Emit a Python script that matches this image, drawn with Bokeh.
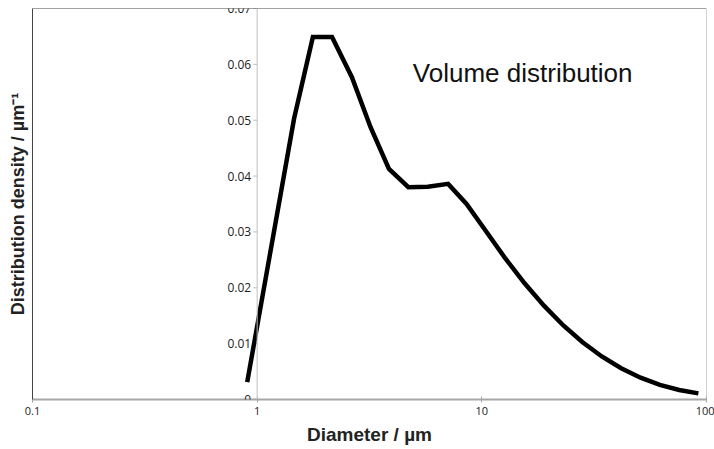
from bokeh.plotting import figure
from bokeh.models import ColumnDataSource, Span, Label, LabelSet, FixedTicker, CustomJSTickFormatter
from bokeh.core.properties import value
from bokeh.embed import file_html
from bokeh.resources import INLINE
import math

# Particle size distribution (volume-weighted density)
diameter_um = [0.903, 1.46, 1.77, 2.154, 2.64, 3.2, 3.86, 4.71, 5.75, 7.08, 8.55,
               10.4, 12.7, 15.5, 18.9, 23.0, 28.0, 34.2, 41.7, 50.9, 62.0, 75.6, 92.0]
density = [0.0031, 0.0503, 0.0649, 0.0649, 0.0577, 0.0487, 0.0413, 0.0380, 0.0381,
           0.0386, 0.0350, 0.0302, 0.0253, 0.0208, 0.0168, 0.0133, 0.0103, 0.0077,
           0.0056, 0.0039, 0.0026, 0.0017, 0.0011]

x_ticks = [0.1, 1, 10, 100]
y_ticks = [0, 0.01, 0.02, 0.03, 0.04, 0.05, 0.06, 0.07]
y_tick_labels = ["0", "0.01", "0.02", "0.03", "0.04", "0.05", "0.06", "0.07"]
y_axis_at = 1

p = figure(width=714, height=449, x_axis_type="log", x_range=(0.1, 100), y_range=(0, 0.07),
           output_backend="svg", toolbar_location=None,
           min_border_left=32, min_border_right=8, min_border_top=8, min_border_bottom=50)
p.grid.visible = False
p.outline_line_color = None
p.background_fill_color = "white"
p.border_fill_color = "white"

# bottom axis
xa = p.xaxis[0]
xa.ticker = FixedTicker(ticks=x_ticks, minor_ticks=[])
xa.formatter = CustomJSTickFormatter(code="return tick.toString();")
xa.axis_line_color = "#a6a6a6"
xa.axis_line_width = 2
xa.major_tick_line_color = "#a6a6a6"
xa.major_tick_in = 3
xa.major_tick_out = 3
xa.minor_tick_line_color = None
xa.major_label_text_font = "Open Sans"
xa.major_label_text_font_size = "11px"
xa.major_label_text_color = "#222222"
xa.major_label_standoff = 4
xa.axis_label = "Diameter / µm"
xa.axis_label_text_font = "Liberation Sans"
xa.axis_label_text_font_style = "bold"
xa.axis_label_text_font_size = "19px"
xa.axis_label_text_color = "#222222"
xa.axis_label_standoff = 6

# left side: frame edge plus rotated title only
ya = p.yaxis[0]
ya.ticker = FixedTicker(ticks=[])
ya.axis_line_color = "#444444"
ya.major_tick_line_color = None
ya.minor_tick_line_color = None
ya.major_label_text_font_size = "0px"
ya.axis_label = "Distribution density / µm⁻¹"
ya.axis_label_text_font = "Liberation Sans"
ya.axis_label_text_font_style = "bold"
ya.axis_label_text_font_size = "18px"
ya.axis_label_text_color = "#222222"
ya.axis_label_standoff = 5

# top and right frame edges
p.add_layout(Span(location=0.07, dimension="width", line_color="#444444", line_width=1))
p.add_layout(Span(location=100, dimension="height", line_color="#a6a6a6", line_width=1))

# value axis crossing at x = 1
p.add_layout(Span(location=y_axis_at, dimension="height", line_color="#bfbfbf", line_width=1))
tick_src = ColumnDataSource(dict(x=[y_axis_at] * len(y_ticks), y=y_ticks, label=y_tick_labels))
p.ray(x="x", y="y", length=4, length_units="screen", angle=math.pi,
      line_color="#bfbfbf", line_width=1, source=tick_src)
p.add_layout(LabelSet(x="x", y="y", text="label", source=tick_src, x_offset=-6,
                      text_align="right", text_baseline="middle",
                      text_font=value("Open Sans"), text_font_size=value("12px"),
                      text_color="#222222"))

# distribution curve
p.line(diameter_um, density, line_color="black", line_width=4.5, line_join="miter")

p.add_layout(Label(x=4.93, y=0.0584, text="Volume distribution", text_font="Liberation Sans",
                   text_font_size="26px", text_color="#111111", text_baseline="alphabetic"))

open("out.html", "w").write(file_html(p, INLINE))
